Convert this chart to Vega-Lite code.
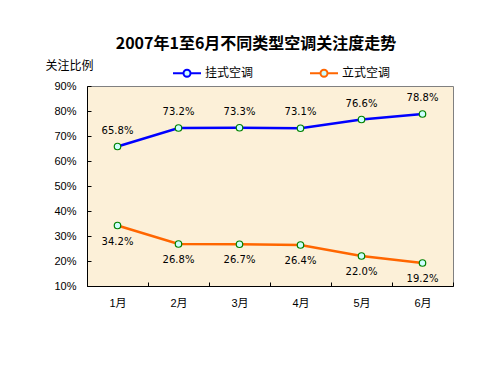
{
  "$schema": "https://vega.github.io/schema/vega-lite/v6.json",
  "width": 366,
  "height": 200,
  "autosize": {"type": "none"},
  "padding": {"left": 87, "top": 86, "right": 47, "bottom": 89},
  "background": "#ffffff",
  "title": {
    "text": "2007年1至6月不同类型空调关注度走势",
    "font": "Noto Sans CJK SC",
    "fontSize": 16,
    "fontWeight": "bold",
    "color": "#000000",
    "anchor": "middle",
    "frame": "group",
    "dx": -14,
    "offset": 6
  },
  "config": {
    "view": {"fill": "#FCF0D8", "stroke": "#808080", "strokeWidth": 1},
    "axis": {
      "domainColor": "#000000",
      "tickColor": "#000000",
      "labelColor": "#000000",
      "labelFont": "Liberation Sans, Noto Sans CJK SC",
      "labelFontSize": 11,
      "grid": false,
      "tickSize": -4,
      "labelPadding": 15
    }
  },
  "data": {
    "values": [
      {"month": "1月", "series": "挂式空调", "value": 0.658},
      {"month": "2月", "series": "挂式空调", "value": 0.732},
      {"month": "3月", "series": "挂式空调", "value": 0.733},
      {"month": "4月", "series": "挂式空调", "value": 0.731},
      {"month": "5月", "series": "挂式空调", "value": 0.766},
      {"month": "6月", "series": "挂式空调", "value": 0.788},
      {"month": "1月", "series": "立式空调", "value": 0.342},
      {"month": "2月", "series": "立式空调", "value": 0.268},
      {"month": "3月", "series": "立式空调", "value": 0.267},
      {"month": "4月", "series": "立式空调", "value": 0.264},
      {"month": "5月", "series": "立式空调", "value": 0.220},
      {"month": "6月", "series": "立式空调", "value": 0.192}
    ]
  },
  "encoding": {
    "x": {
      "field": "month",
      "type": "ordinal",
      "bandPosition": 0.5,
      "scale": {"type": "band", "paddingInner": 0, "paddingOuter": 0},
      "axis": {"title": null, "labelAngle": 0, "tickBand": "extent"}
    },
    "y": {
      "field": "value",
      "type": "quantitative",
      "scale": {"domain": [0.1, 0.9], "nice": false, "zero": false},
      "axis": {
        "format": ".0%",
        "values": [0.1, 0.2, 0.3, 0.4, 0.5, 0.6, 0.7, 0.8, 0.9],
        "title": "关注比例",
        "titleFont": "Noto Sans CJK SC",
        "titleFontSize": 12,
        "titleFontWeight": "normal",
        "titleColor": "#000000",
        "titleAngle": 0,
        "titleAlign": "left",
        "titleBaseline": "middle",
        "titleX": -42,
        "titleY": -21
      }
    }
  },
  "layer": [
    {
      "mark": {"type": "line", "strokeWidth": 2.5},
      "encoding": {
        "color": {
          "field": "series",
          "type": "nominal",
          "scale": {"domain": ["挂式空调", "立式空调"], "range": ["#0000FF", "#FF6600"]},
          "legend": {
            "title": null,
            "orient": "none",
            "direction": "horizontal",
            "legendX": 85,
            "legendY": -28,
            "symbolType": "M-1,0H-0.25M0.25,0H1M0.25,0A0.25,0.25,0,1,1,-0.25,0A0.25,0.25,0,1,1,0.25,0Z",
            "symbolSize": 784,
            "symbolStrokeWidth": 2,
            "labelFont": "Noto Sans CJK SC",
            "labelFontSize": 12,
            "labelColor": "#000000",
            "labelOffset": 3,
            "columnPadding": 52,
            "encode": {"symbols": {"update": {"fill": {"value": "#ccffff"}}}}
          }
        }
      }
    },
    {
      "mark": {"type": "point", "shape": "circle", "filled": true, "fill": "#ccffff", "stroke": "#008000", "strokeWidth": 1.2, "size": 42, "opacity": 1}
    },
    {
      "transform": [{"filter": "datum.series === '挂式空调'"}],
      "mark": {"type": "text", "dy": -16, "font": "DejaVu Sans", "fontSize": 10, "color": "#000000"},
      "encoding": {"text": {"field": "value", "type": "quantitative", "format": ".1%"}}
    },
    {
      "transform": [{"filter": "datum.series === '立式空调'"}],
      "mark": {"type": "text", "dy": 16, "font": "DejaVu Sans", "fontSize": 10, "color": "#000000"},
      "encoding": {"text": {"field": "value", "type": "quantitative", "format": ".1%"}}
    }
  ]
}
